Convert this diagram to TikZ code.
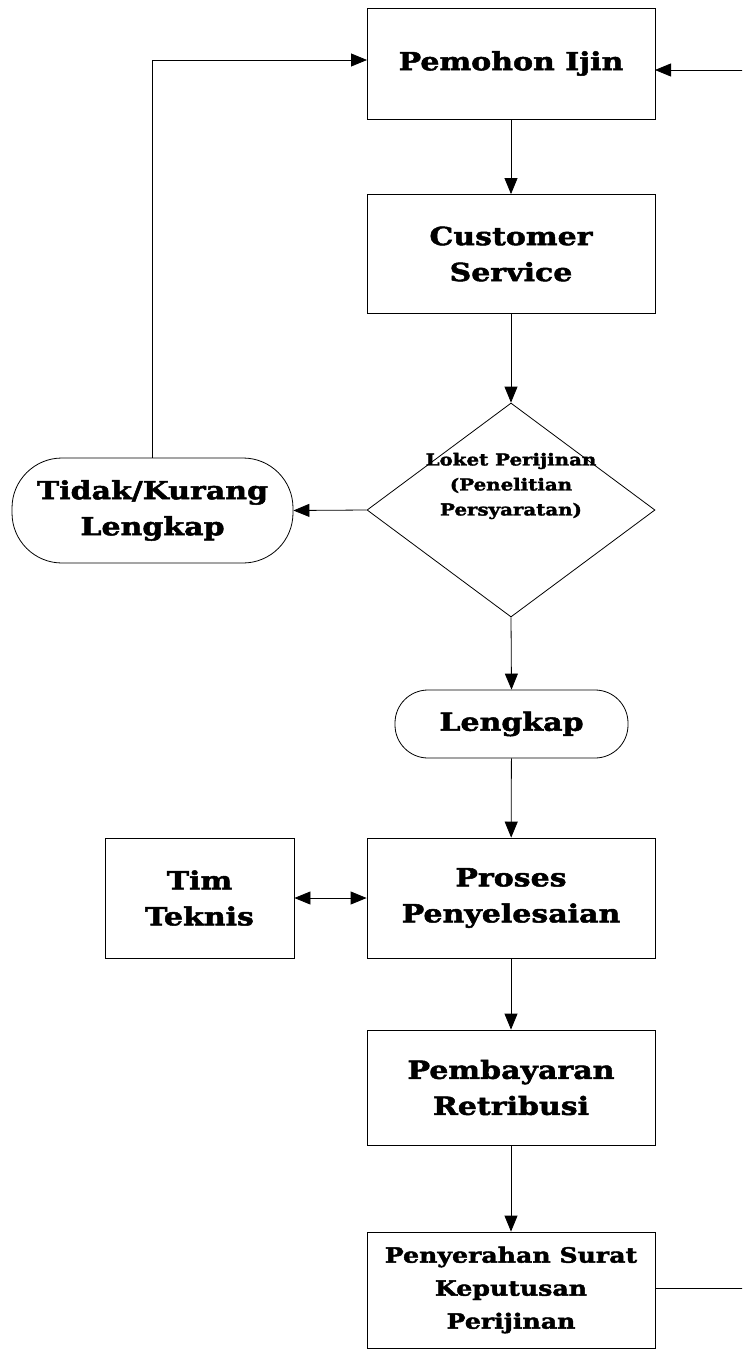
\documentclass[tikz,border=0pt]{standalone}
\usepackage{fontspec}
\setmainfont[FakeStretch=1.2,BoldFeatures={FakeBold=2}]{DejaVu Serif}
\usetikzlibrary{arrows.meta,shapes.geometric}
\begin{document}
\begin{tikzpicture}[x=1pt,y=-1pt,
  every node/.style={font=\bfseries},
  proc/.style={draw, line width=0.8pt, minimum width=288pt, inner sep=0pt, align=center},
  term/.style={draw, line width=0.8pt, inner sep=0pt, align=center},
  big/.style={font=\bfseries\fontsize{25}{36}\selectfont},
  arr/.style={line width=0.8pt, -{Triangle[length=16pt,width=13pt]}},
  line/.style={line width=0.8pt}]
\useasboundingbox (0,0) rectangle (742,1349);
\node[proc, big, minimum height=111pt] (pemohon) at (511,63.5) {Pemohon Ijin};
\node[proc, big, minimum height=119pt] (cs) at (511,254) {Customer\\Service};
\node[draw, line width=0.8pt, shape=diamond, inner sep=0pt, minimum width=288pt, minimum height=214pt] (dia) at (511,510) {};
\node[font=\bfseries\fontsize{16.5}{25}\selectfont, align=center] (diatext) at (511,486) {Loket Perijinan\\(Penelitian\\Persyaratan)};
\node[term, big, minimum width=281pt, minimum height=105pt, rounded corners=50pt] (tidak) at (152.5,510.5) {Tidak/Kurang\\Lengkap};
\node[term, big, minimum width=233pt, minimum height=68pt, rounded corners=33pt] (lengkap) at (511.5,724) {Lengkap};
\node[proc, big, minimum height=120pt] (proses) at (511,898) {Proses\\Penyelesaian};
\node[draw, line width=0.8pt, big, minimum width=189pt, minimum height=120pt, align=center, inner sep=0pt] (tim) at (199.5,898) {Tim\\Teknis};
\node[proc, big, minimum height=115pt] (bayar) at (511,1087.5) {Pembayaran\\Retribusi};
\node[proc, minimum height=116pt, font=\bfseries\fontsize{21}{33}\selectfont] (serah) at (511,1290) {Penyerahan Surat\\Keputusan\\Perijinan};
\coordinate (pl) at (367,60);
\coordinate (pr) at (655,70);
\coordinate (sr) at (655,1288);
\draw[arr] (pemohon) -- (cs);
\draw[arr] (cs) -- (dia.north);
\draw[arr] (dia.west) -- (tidak.east);
\draw[arr] (tidak.north) |- (pl);
\draw[arr] (dia.south) -- (lengkap.north);
\draw[arr] (lengkap) -- (proses);
\draw[line width=0.8pt, {Triangle[length=16pt,width=13pt]}-{Triangle[length=16pt,width=13pt]}] (tim.east) -- (proses.west);
\draw[arr] (proses) -- (bayar);
\draw[arr] (bayar) -- (serah);
\begin{scope}
\clip (0,0) rectangle (742,1349);
\coordinate (rc) at (743,1288);
\draw[arr] (sr) -- (rc) |- (pr);
\end{scope}
\end{tikzpicture}
\end{document}
